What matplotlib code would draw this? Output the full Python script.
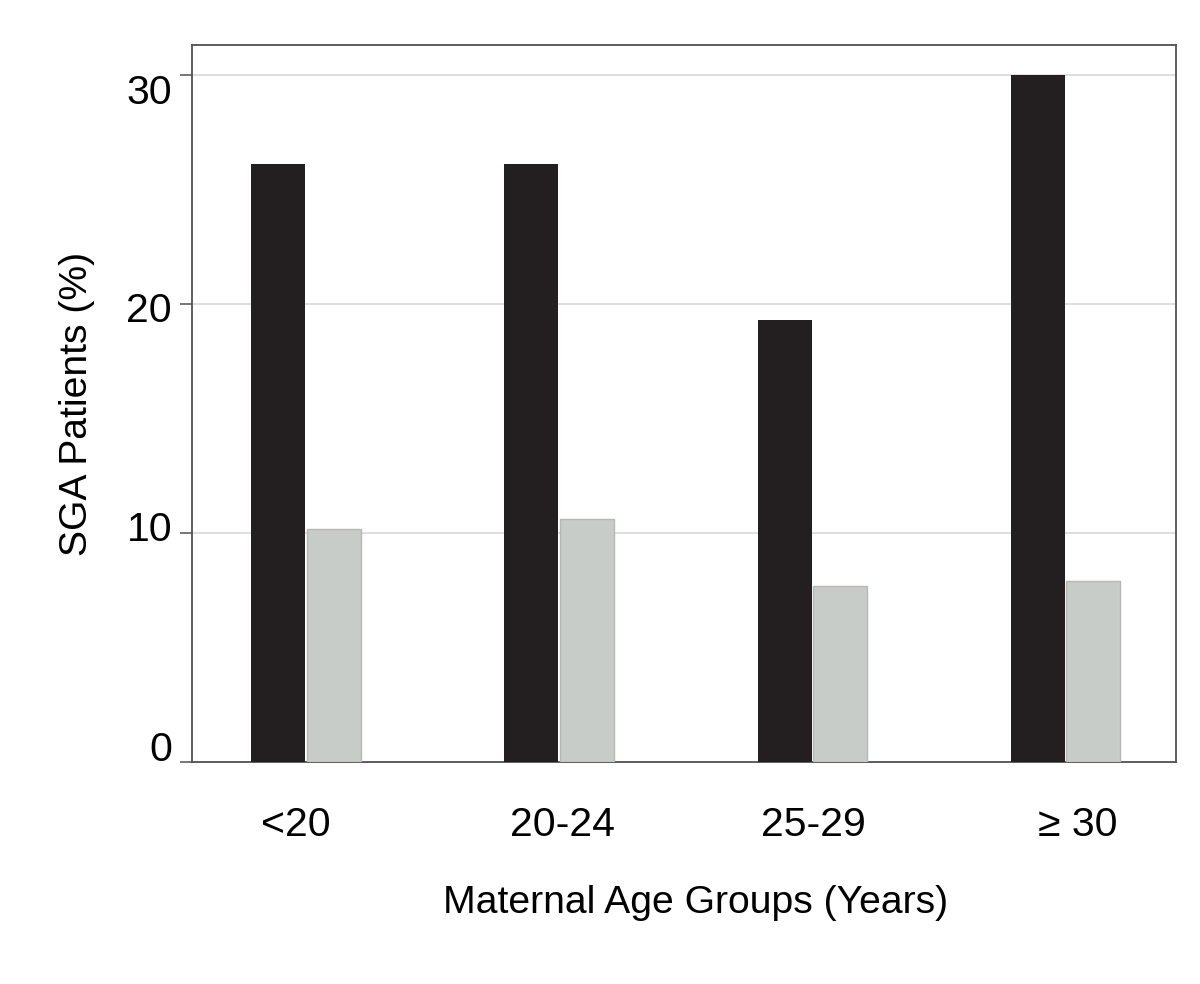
import matplotlib
matplotlib.use("Agg")
import matplotlib.pyplot as plt
import matplotlib.transforms as mtransforms
import numpy as np

# Data
categories = ["<20", "20-24", "25-29", "\u2265 30"]
series_dark = [26.1, 26.1, 19.3, 30.0]
series_light = [10.15, 10.6, 7.7, 7.9]
y_ticks = [0, 10, 20, 30]

plt.rcParams['font.family'] = ['Liberation Sans', 'DejaVu Sans']

fig = plt.figure(figsize=(12, 9.84), dpi=100)
ax = fig.add_axes([0.16, 0.2256, 0.82, 0.7287])

x = np.arange(len(categories))
w = 0.213
gap = 0.003
ax.bar(x - w / 2 - gap, series_dark, width=w, color="#231f20", edgecolor="none", zorder=3)
ax.bar(x + w / 2 + gap, series_light, width=w, color="#c8ccc9", edgecolor="#b5b9b6",
       linewidth=1.0, zorder=3)

ax.set_xlim(-0.45, 3.436)
ax.set_ylim(0, 31.3)

ax.set_yticks(y_ticks)
ax.set_yticklabels([str(t) for t in y_ticks])
ax.set_xticks(x)
ax.set_xticklabels(categories)

for yt in y_ticks[1:]:
    ax.axhline(yt, color="#dedede", linewidth=1.4, zorder=1)

ax.tick_params(axis='y', length=8.6, width=1.2, color="#606060", pad=5.8, labelsize=29.5)
ax.tick_params(axis='x', length=0, pad=32, labelsize=29.5)

# evenly spaced y-tick label placement as in the reference
y_offsets_px = {0: 16, 10: 7, 20: -3, 30: -14}
for t, lab in zip(y_ticks, ax.get_yticklabels()):
    dy = y_offsets_px[t] / 100.0
    lab.set_transform(lab.get_transform() + mtransforms.ScaledTranslation(0, dy, fig.dpi_scale_trans))

x_offsets_px = [-10, 3, 1, 12]
for dx, lab in zip(x_offsets_px, ax.get_xticklabels()):
    lab.set_transform(lab.get_transform() + mtransforms.ScaledTranslation(dx / 100.0, 0, fig.dpi_scale_trans))

for s in ax.spines.values():
    s.set_color("#505050")
    s.set_linewidth(1.3)

ax.set_ylabel("SGA Patients (%)", fontsize=28.2)
ax.yaxis.set_label_coords(-0.099, 0.5)
ax.set_xlabel("Maternal Age Groups (Years)", fontsize=28.2)
ax.xaxis.set_label_coords(0.512, -0.172)

fig.savefig("out.png", dpi=100, facecolor="white")
